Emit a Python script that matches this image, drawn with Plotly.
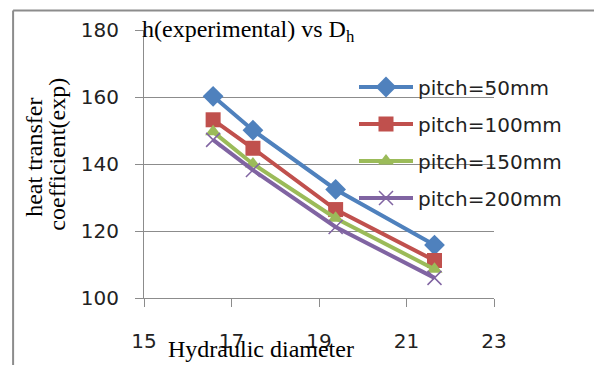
import plotly.graph_objects as go

# Hydraulic diameter (mm) and experimental heat transfer coefficient per pitch
hydraulic_diameter = [16.58, 17.49, 19.38, 21.64]
h_pitch_50 = [160.2, 150.1, 132.4, 115.8]
h_pitch_100 = [153.2, 144.7, 126.4, 111.2]
h_pitch_150 = [149.6, 140.0, 123.8, 108.6]
h_pitch_200 = [147.2, 138.2, 121.2, 106.0]

series_names = ["pitch=50mm", "pitch=100mm", "pitch=150mm", "pitch=200mm"]
series_values = [h_pitch_50, h_pitch_100, h_pitch_150, h_pitch_200]
colors = ["#4F81BD", "#C0504D", "#9BBB59", "#8064A2"]
symbols = ["diamond", "square", "triangle-up", "x-thin"]
marker_sizes = [16, 15, 14, 14]

x_ticks = [15, 17, 19, 21, 23]
y_ticks = [100, 120, 140, 160, 180]

fig = go.Figure()
for i, (name, vals) in enumerate(zip(series_names, series_values)):
    marker = dict(symbol=symbols[i], size=marker_sizes[i], color=colors[i])
    if symbols[i] == "x-thin":
        marker["line"] = dict(color=colors[i], width=1.5)
    fig.add_trace(go.Scatter(
        x=hydraulic_diameter, y=vals, name=name, mode="lines+markers",
        line=dict(color=colors[i], width=4), marker=marker,
        legendgroup=f"g{i}",
    ))

grid = "#8C8C8C"
sans = "DejaVu Sans"
serif = "Liberation Serif"
ink = "#222222"

fig.update_layout(
    width=594, height=365,
    margin=dict(l=144, r=100, t=30, b=67),
    paper_bgcolor="white", plot_bgcolor="white",
    showlegend=True,
    legend=dict(
        x=0.60, y=0.86, xanchor="left", yanchor="top",
        bgcolor="rgba(0,0,0,0)", font=dict(family=sans, size=20, color=ink),
        traceorder="grouped", tracegroupgap=8, itemwidth=54,
    ),
    xaxis=dict(
        range=[15, 23], tickvals=x_ticks, showgrid=False, zeroline=False,
        showline=True, linecolor=grid, linewidth=1,
        ticks="outside", ticklen=8, tickcolor=grid,
        tickfont=dict(family=sans, size=20, color=ink),
        ticklabelstandoff=17,
    ),
    yaxis=dict(
        range=[100, 180], tickvals=y_ticks, showgrid=True, gridcolor=grid,
        gridwidth=1, zeroline=False,
        showline=True, linecolor=grid, linewidth=1,
        ticks="outside", ticklen=8, tickcolor=grid,
        tickfont=dict(family=sans, size=20, color=ink),
        ticklabelstandoff=12,
    ),
    annotations=[
        dict(text="h(experimental) vs D<sub>h</sub>", x=-0.012, y=0.995,
             xref="paper", yref="paper", xanchor="left", yanchor="middle",
             showarrow=False, font=dict(family=serif, size=24, color="black")),
        dict(text="Hydraulic diameter", x=0.334, y=-0.19,
             xref="paper", yref="paper", xanchor="center", yanchor="middle",
             showarrow=False, font=dict(family=serif, size=24, color="black")),
        dict(text="heat transfer", x=-0.315, y=0.526,
             xref="paper", yref="paper", xanchor="center", yanchor="middle",
             textangle=-90, showarrow=False,
             font=dict(family=serif, size=24, color="black")),
        dict(text="coefficient(exp)", x=-0.247, y=0.537,
             xref="paper", yref="paper", xanchor="center", yanchor="middle",
             textangle=-90, showarrow=False,
             font=dict(family=serif, size=24, color="black")),
    ],
    shapes=[
        # outer frame edges of the chart area
        dict(type="line", xref="paper", yref="paper", x0=-0.374, x1=1.3,
             y0=1.073, y1=1.073, line=dict(color="#8C8C8C", width=2)),
        dict(type="line", xref="paper", yref="paper", x0=-0.374, x1=-0.374,
             y0=1.073, y1=-0.26, line=dict(color="#8C8C8C", width=2)),
    ],
)

fig.write_html("out.html")
